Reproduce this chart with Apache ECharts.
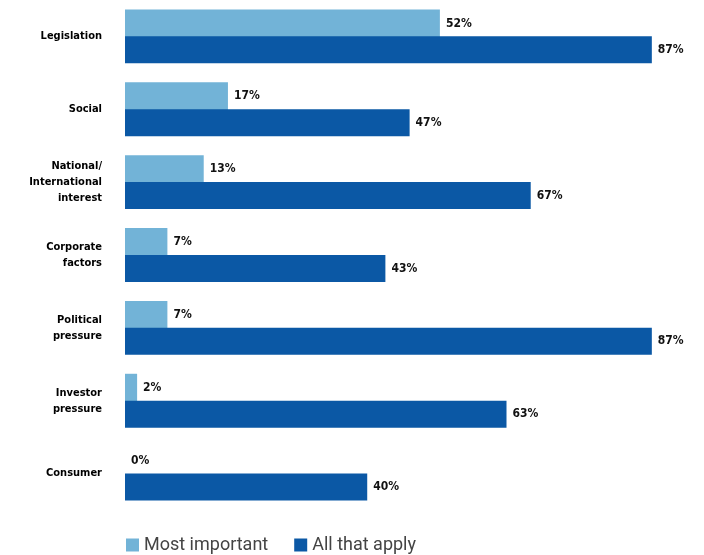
<!DOCTYPE html>
<html>
<head>
<meta charset="utf-8">
<script src="https://cdn.jsdelivr.net/npm/echarts@6/dist/echarts.min.js"></script>
<style>
  html, body { margin: 0; padding: 0; background: #fff; }
  #chart { width: 704px; height: 555px; }
</style>
</head>
<body>
<div id="chart"></div>
<script>
// Drivers, share of respondents
let categories = [
    'Legislation',
    'Social',
    'National/\nInternational\ninterest',
    'Corporate\nfactors',
    'Political\npressure',
    'Investor\npressure',
    'Consumer'
];
let mostImportant = [52, 17, 13, 7, 7, 2, 0];
let allThatApply = [87, 47, 67, 43, 87, 63, 40];

let chart = echarts.init(document.getElementById('chart'));

let valueLabel = {
    show: true,
    position: 'right',
    distance: 6,
    formatter: '{c}%',
    color: '#111',
    fontFamily: 'DejaVu Sans Condensed',
    fontWeight: 'bold',
    fontSize: 12
};

let option = {
    animation: false,
    color: ['#72b3d7', '#0b58a5'],

    grid: {
        left: 125,
        top: 0,
        width: 545,
        height: 510
    },

    legend: {
        bottom: -4,
        left: 121,
        itemWidth: 13,
        itemHeight: 13,
        itemGap: 26,
        icon: 'rect',
        textStyle: {
            fontFamily: 'Roboto',
            fontSize: 18,
            color: '#444'
        },
        data: ['Most important', 'All that apply']
    },

    xAxis: {
        type: 'value',
        min: 0,
        max: 90,
        show: false
    },

    yAxis: {
        type: 'category',
        inverse: true,
        data: categories,
        axisLine: { show: false },
        axisTick: { show: false },
        axisLabel: {
            margin: 23,
            color: '#000',
            fontFamily: 'DejaVu Sans Condensed',
            fontWeight: 'bold',
            fontSize: 11,
            lineHeight: 16,
            align: 'right'
        }
    },

    series: [
        {
            name: 'Most important',
            type: 'bar',
            barWidth: 28,
            barGap: '-4%',
            label: valueLabel,
            data: mostImportant
        },
        {
            name: 'All that apply',
            type: 'bar',
            barWidth: 27,
            barGap: '-4%',
            label: valueLabel,
            data: allThatApply
        }
    ]
};

chart.setOption(option);
</script>
</body>
</html>
